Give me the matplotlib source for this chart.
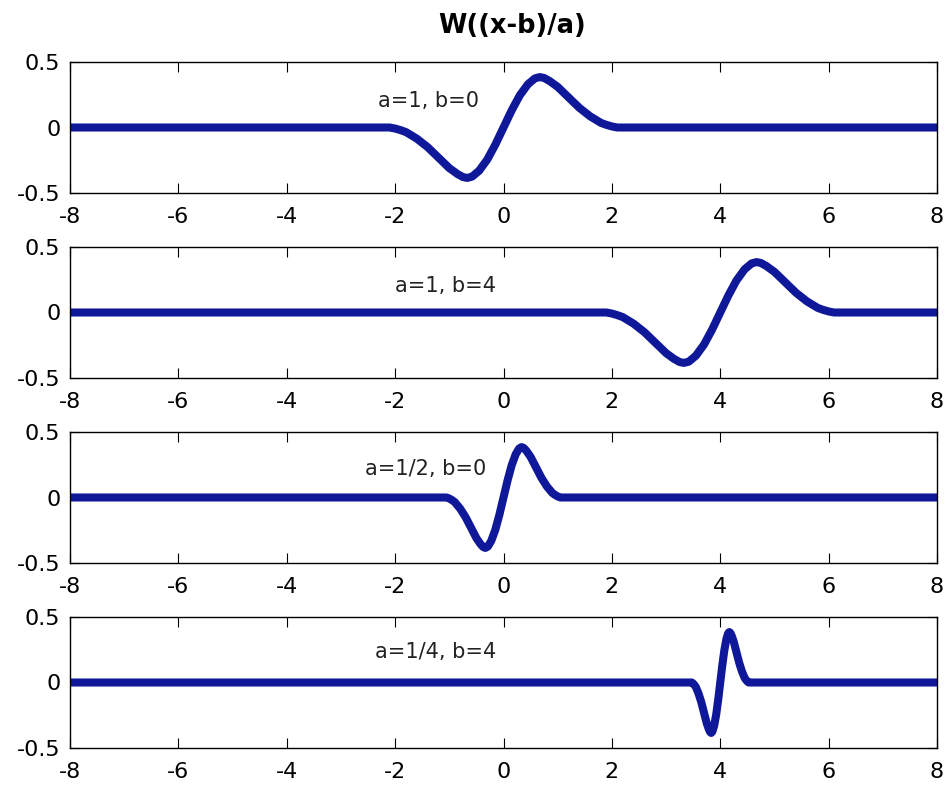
import matplotlib
matplotlib.use("Agg")
import matplotlib.pyplot as plt
import numpy as np

# Mother wavelet W(u), samples (a=1, b=0)
u_vals = [-2.1, -2.0, -1.9, -1.8, -1.6, -1.4, -1.2, -1.0, -0.85, -0.75, -0.67, -0.58, -0.45, -0.3, -0.15, 0.0,
          0.15, 0.3, 0.45, 0.58, 0.67, 0.75, 0.85, 1.0, 1.2, 1.4, 1.6, 1.8, 1.9, 2.0, 2.1]
w_vals = [0.0, -0.008, -0.02, -0.035, -0.085, -0.15, -0.23, -0.31, -0.355, -0.378, -0.385, -0.375, -0.33, -0.245, -0.13, 0.0,
          0.13, 0.245, 0.33, 0.375, 0.385, 0.378, 0.355, 0.31, 0.23, 0.15, 0.085, 0.035, 0.02, 0.008, 0.0]

# Panel parameters
a_vals = [1.0, 1.0, 0.5, 0.25]
b_vals = [0.0, 4.0, 0.0, 4.0]
labels = ["a=1, b=0", "a=1, b=4", "a=1/2, b=0", "a=1/4, b=4"]
label_x = [-2.32, -2.0, -2.55, -2.37]
label_y = [0.16, 0.16, 0.17, 0.19]

x_range = [-8, 8]
x_ticks = [-8, -6, -4, -2, 0, 2, 4, 6, 8]
y_ticks = [-0.5, 0, 0.5]
y_ticklabels = ["-0.5", "0", "0.5"]

title = "W((x-b)/a)"

plt.rcParams['font.family'] = ['DejaVu Sans']

fig = plt.figure(figsize=(9.48, 7.85), dpi=100)
line_color = "#10189a"

bottoms_px = [193, 378, 563, 748]
for i in range(4):
    bottom = 1 - bottoms_px[i] / 785
    ax = fig.add_axes([70 / 948, bottom, 867 / 948, 131 / 785])
    u = np.array(u_vals)
    xs = np.concatenate([[x_range[0]], a_vals[i] * u + b_vals[i], [x_range[1]]])
    ys = np.concatenate([[0.0], np.array(w_vals), [0.0]])
    ax.plot(xs, ys, color=line_color, lw=5.8, solid_capstyle='butt', solid_joinstyle='round')
    ax.set_xlim(x_range)
    ax.set_ylim(-0.5, 0.5)
    ax.set_xticks(x_ticks)
    ax.set_xticklabels([str(t) for t in x_ticks])
    ax.set_yticks(y_ticks)
    ax.set_yticklabels(y_ticklabels)
    ax.tick_params(axis='both', direction='in', length=7, width=0.8, top=True, right=True,
                   labelsize=16, colors='black')
    ax.tick_params(axis='y', pad=7)
    ax.tick_params(axis='x', pad=10)
    for s in ax.spines.values():
        s.set_linewidth(1.0)
        s.set_color('black')
    ax.text(label_x[i], label_y[i], labels[i], fontsize=15, color='#222222',
            ha='left', va='baseline')

fig.text(0.54, 0.967, title, fontsize=18.5, fontweight='bold', ha='center', va='center')

fig.savefig("out.png", dpi=100, facecolor='white')
